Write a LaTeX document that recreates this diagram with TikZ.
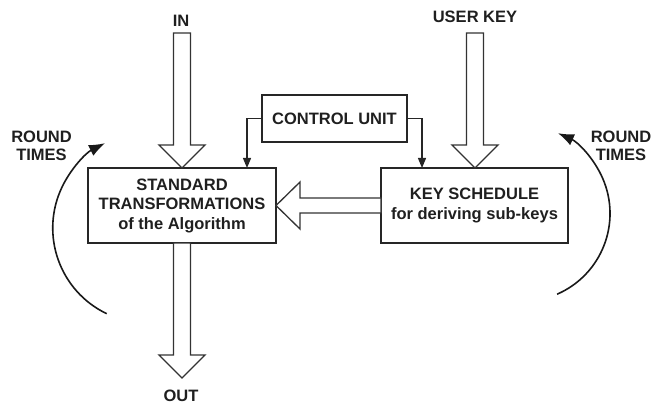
\documentclass[tikz,border=0pt]{standalone}
\usepackage{fontspec}
\setmainfont{Liberation Sans}
\usetikzlibrary{arrows.meta,calc}

\tikzset{
  txt/.style={font=\fontsize{16.5}{19.5}\selectfont\bfseries, text=black!88},
  box/.style={txt, draw=black!85, line width=1.8pt, align=center, inner sep=0pt, outer sep=0pt},
  lbl/.style={txt, inner sep=0pt, outer sep=0pt, text height=11.8pt, text depth=0pt},
  barrow/.style={draw=black!80, line width=1.3pt, fill=white, line join=miter},
  ctl/.style={draw=black!85, line width=1.2pt, -{Triangle[length=10pt,width=8pt]}},
  loop/.style={draw=black!90, line width=1.6pt, -{Latex[length=16pt,width=12pt]}},
  roundlbl/.style={txt, align=center, inner sep=0pt, font=\fontsize{16.5}{18.5}\selectfont\bfseries},
}

% hollow block arrow pointing down: from shaft top #1 to tip #2
\newcommand{\downblock}[2]{%
  \path[barrow] let \p1=(#1), \p2=(#2) in
    (\x2-8.5pt,\y1) -- (\x2-8.5pt,\y2+23pt) -- (\x2-23pt,\y2+23pt) -- (\x2,\y2)
    -- (\x2+23pt,\y2+23pt) -- (\x2+8.5pt,\y2+23pt) -- (\x2+8.5pt,\y1) -- cycle;}
% hollow block arrow pointing left: from shaft end #1 to tip #2
\newcommand{\leftblock}[2]{%
  \path[barrow] let \p1=(#1), \p2=(#2) in
    (\x1,\y2+7.5pt) -- (\x2+24pt,\y2+7.5pt) -- (\x2+24pt,\y2+23.5pt) -- (\x2,\y2)
    -- (\x2+24pt,\y2-23.5pt) -- (\x2+24pt,\y2-7.5pt) -- (\x1,\y2-7.5pt) -- cycle;}

\begin{document}
\begin{tikzpicture}[x=1pt,y=1pt]
\useasboundingbox (0,0) rectangle (651,405);

% main blocks
\node[box, minimum width=188pt, minimum height=75pt] (std) at (182,199.5)
  {STANDARD\\TRANSFORMATIONS\\of the Algorithm};
\node[box, minimum width=187pt, minimum height=75pt] (key) at (474.5,199.5)
  {KEY SCHEDULE\\for deriving sub-keys};
\node[box, minimum width=145pt, minimum height=47pt] (ctrl) at (334.5,286.5)
  {CONTROL UNIT};

% input / output labels
\node[lbl] (in) at (181,384) {IN};
\node[lbl] (ukey) at (475,388) {USER KEY};
\node[lbl] (out) at (181,9) {OUT};
\coordinate (inTop) at (182,372);
\coordinate (ukTop) at (475,372);
\coordinate (outTip) at (182,27);

% data flow
\downblock{inTop}{inTop |- std.north}
\downblock{ukTop}{ukTop |- key.north}
\downblock{std.south}{outTip}
\leftblock{key.west}{std.east}

% control signals
\draw[ctl] (ctrl.west) -- ++(-15pt,0) coordinate (c1) -- (c1 |- std.north);
\draw[ctl] (ctrl.east) -- ++(15pt,0) coordinate (c2) -- (c2 |- key.north);

% round repetition
\node[roundlbl] (rl) at (41.5,259) {ROUND\\TIMES};
\node[roundlbl] (rr) at (621,259) {ROUND\\TIMES};
\draw[loop] (106.7,91.3) arc[start angle=244.4, end angle=116.7, radius=95];
\draw[loop] (557.1,110.8) arc[start angle=-66.5, end angle=65.9, radius=88];
\end{tikzpicture}
\end{document}
